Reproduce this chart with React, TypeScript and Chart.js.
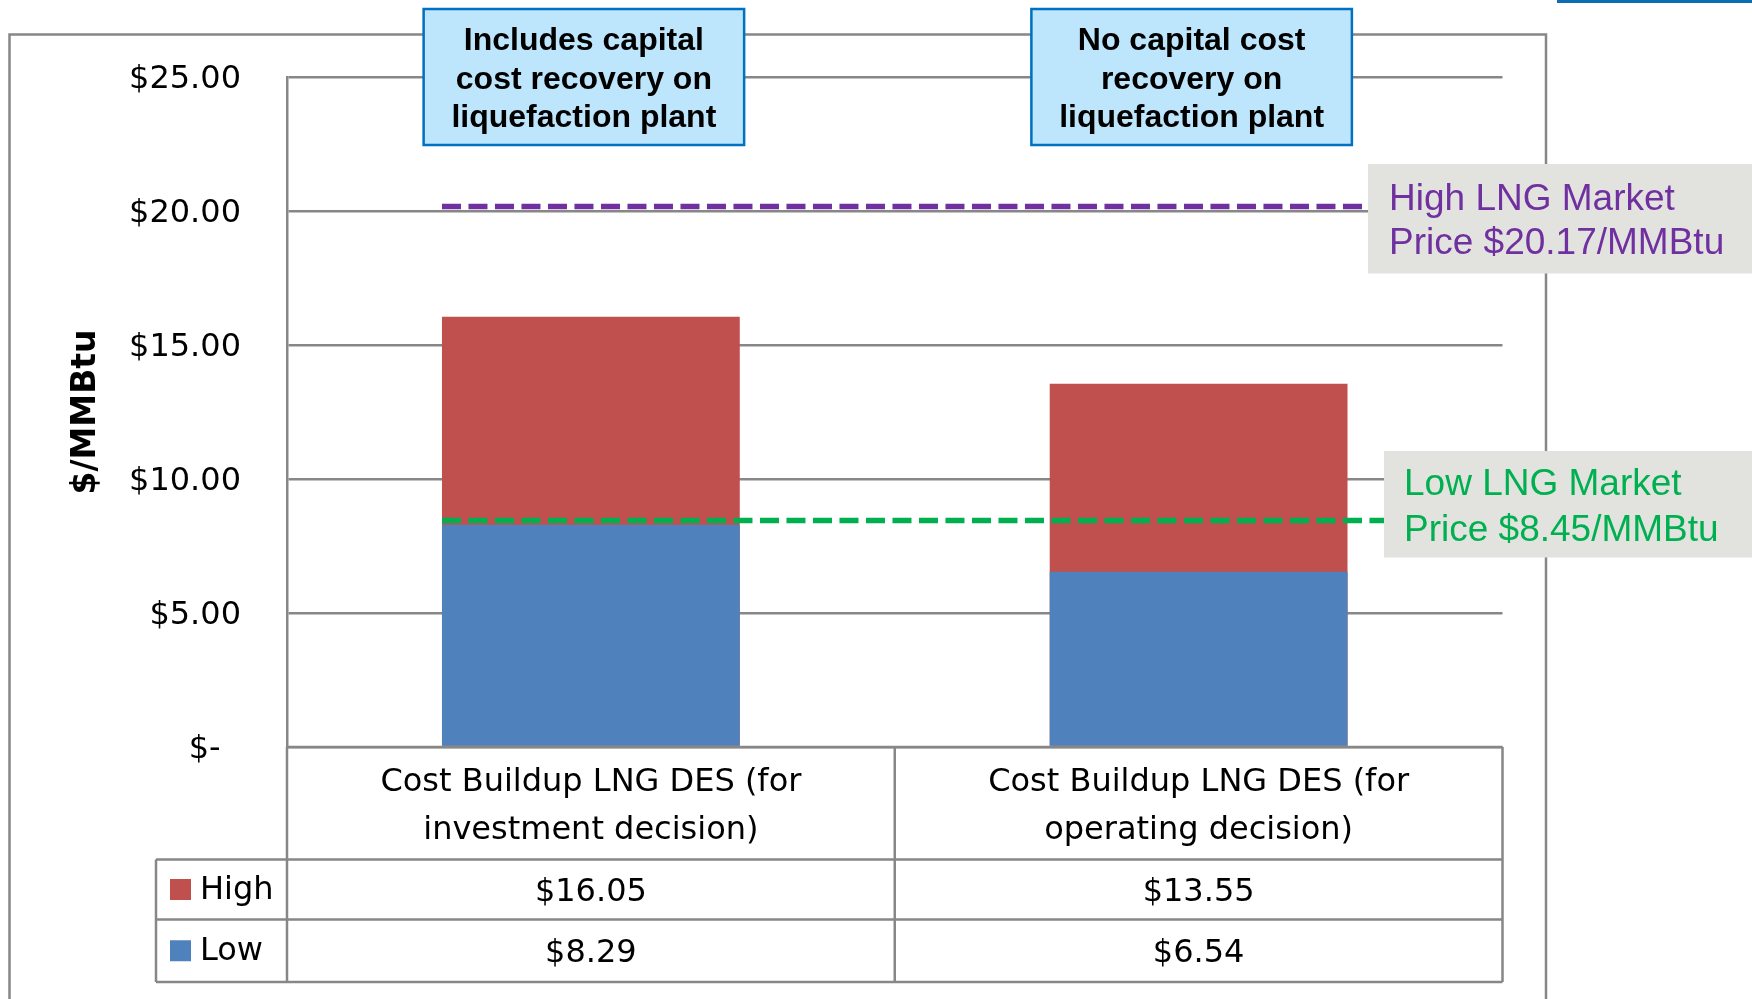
import React, { useEffect, useRef } from 'react';
import { Chart, registerables } from 'chart.js';

Chart.register(...registerables);

// ---------- data ----------
const categories: string[][] = [
  ['Cost Buildup LNG DES (for', 'investment decision)'],
  ['Cost Buildup LNG DES (for', 'operating decision)'],
];
const seriesNames = ['High', 'Low'];
const highValues = [16.05, 13.55];
const lowValues = [8.29, 6.54];
const yMin = 0;
const yMax = 25;
const yStep = 5;
const highMarketPrice = 20.17;
const lowMarketPrice = 8.45;
const yAxisTitle = '$/MMBtu';
const headerNotes: string[][] = [
  ['Includes capital', 'cost recovery on', 'liquefaction plant'],
  ['No capital cost', 'recovery on', 'liquefaction plant'],
];
const highMarketLabel = ['High LNG Market', `Price $${highMarketPrice.toFixed(2)}/MMBtu`];
const lowMarketLabel = ['Low LNG Market', `Price $${lowMarketPrice.toFixed(2)}/MMBtu`];

// ---------- styles ----------
const W = 1752;
const H = 999;
const GRID = '#878787';
const RED = '#c0504d';
const BLUE = '#4f81bd';
const PURPLE = '#7030a0';
const GREEN = '#00b050';
const TICK_FONT = 'DejaVu Sans';
const ARIAL = '"Liberation Sans", Arial, sans-serif';

const money = (v: number) => '$' + v.toFixed(2);

const overlay = {
  id: 'overlay',
  beforeDraw(chart: any) {
    const ctx = chart.ctx;
    ctx.save();
    ctx.fillStyle = '#ffffff';
    ctx.fillRect(0, 0, W, H);
    // outer frame
    ctx.strokeStyle = GRID;
    ctx.lineWidth = 2.5;
    ctx.beginPath();
    ctx.moveTo(9.5, H + 10);
    ctx.lineTo(9.5, 34.5);
    ctx.lineTo(1546, 34.5);
    ctx.lineTo(1546, H + 10);
    ctx.stroke();
    // slide decoration top-right
    ctx.fillStyle = '#0c6cb4';
    ctx.fillRect(1557, 0, W - 1557, 3);
    ctx.restore();
  },
  afterDatasetsDraw(chart: any) {
    const ctx = chart.ctx;
    const y = chart.scales.y;
    const bar = chart.getDatasetMeta(0).data[0] as any;
    const x0 = bar.x - bar.width / 2;
    ctx.save();
    ctx.lineWidth = 5.5;
    ctx.setLineDash([19, 7.5]);
    ctx.lineCap = 'butt';
    ctx.strokeStyle = PURPLE;
    ctx.beginPath();
    const yp = y.getPixelForValue(highMarketPrice);
    ctx.moveTo(x0, yp);
    ctx.lineTo(1372, yp);
    ctx.stroke();
    ctx.strokeStyle = GREEN;
    ctx.beginPath();
    const yg = y.getPixelForValue(lowMarketPrice);
    ctx.moveTo(x0, yg);
    ctx.lineTo(1388, yg);
    ctx.stroke();
    ctx.restore();
  },
  afterDraw(chart: any) {
    const ctx = chart.ctx;
    const xs = chart.scales.x;
    const area = chart.chartArea;
    ctx.save();

    // ----- data table -----
    const top = area.bottom;
    const r1 = top + 112.5;
    const r2 = r1 + 60;
    const r3 = r2 + 62.5;
    const legendLeft = 156;
    const mid = (xs.getPixelForValue(0) + xs.getPixelForValue(1)) / 2;
    ctx.strokeStyle = GRID;
    ctx.lineWidth = 2.5;
    ctx.setLineDash([]);
    ctx.beginPath();
    ctx.moveTo(area.left, top);
    ctx.lineTo(area.right, top);
    [area.left, mid, area.right].forEach((x) => {
      ctx.moveTo(x, top);
      ctx.lineTo(x, r3);
    });
    ctx.moveTo(legendLeft, r1);
    ctx.lineTo(legendLeft, r3);
    [r1, r2, r3].forEach((yy) => {
      ctx.moveTo(legendLeft, yy);
      ctx.lineTo(area.right, yy);
    });
    ctx.stroke();

    const rows = [
      { name: seriesNames[0], color: RED, values: highValues, cy: (r1 + r2) / 2 },
      { name: seriesNames[1], color: BLUE, values: lowValues, cy: (r2 + r3) / 2 },
    ];
    ctx.font = `32px "${TICK_FONT}"`;
    ctx.textBaseline = 'middle';
    rows.forEach((row) => {
      ctx.fillStyle = row.color;
      ctx.fillRect(170, row.cy - 10.5, 21, 21);
      ctx.fillStyle = '#000';
      ctx.textAlign = 'left';
      ctx.fillText(row.name, 200, row.cy + 1);
      ctx.textAlign = 'center';
      row.values.forEach((v, j) => {
        ctx.fillText(money(v), xs.getPixelForValue(j), row.cy + 3);
      });
    });

    // ----- header notes -----
    headerNotes.forEach((lines, j) => {
      const cx = xs.getPixelForValue(j) - 7;
      const bw = 320.5;
      const bx = cx - bw / 2;
      const by = 9;
      const bh = 136;
      ctx.fillStyle = '#bde5fb';
      ctx.fillRect(bx, by, bw, bh);
      ctx.strokeStyle = '#0070c0';
      ctx.lineWidth = 2.5;
      ctx.strokeRect(bx, by, bw, bh);
      ctx.fillStyle = '#000';
      ctx.font = `bold 32px ${ARIAL}`;
      ctx.textAlign = 'center';
      ctx.textBaseline = 'middle';
      lines.forEach((t, i) => ctx.fillText(t, cx, 41.5 + i * 38.5));
    });

    // ----- market price labels -----
    const boxes = [
      { x: 1368, y: 164, h: 109.5, tx: 1389, ty: [199.5, 244], color: PURPLE, lines: highMarketLabel },
      { x: 1384, y: 451, h: 106.5, tx: 1404, ty: [485, 531], color: GREEN, lines: lowMarketLabel },
    ];
    boxes.forEach((b) => {
      ctx.fillStyle = '#e2e3de';
      ctx.fillRect(b.x, b.y, W - b.x + 10, b.h);
      ctx.fillStyle = b.color;
      ctx.font = `37px ${ARIAL}`;
      ctx.textAlign = 'left';
      ctx.textBaseline = 'middle';
      b.lines.forEach((t, i) => ctx.fillText(t, b.tx, b.ty[i]));
    });

    ctx.restore();
  },
};

export default function App() {
  const ref = useRef<HTMLCanvasElement>(null);

  useEffect(() => {
    document.body.style.margin = '0';
    const chart = new Chart(ref.current as HTMLCanvasElement, {
      type: 'bar',
      data: {
        labels: categories as any,
        datasets: [
          {
            label: seriesNames[0],
            data: highValues,
            backgroundColor: RED,
            borderWidth: 0,
            order: 1,
            grouped: false,
            barPercentage: 0.49,
            categoryPercentage: 1,
          } as any,
          {
            label: seriesNames[1],
            data: lowValues,
            backgroundColor: BLUE,
            borderWidth: 0,
            order: 0,
            grouped: false,
            barPercentage: 0.49,
            categoryPercentage: 1,
          } as any,
        ],
      },
      options: {
        responsive: false,
        devicePixelRatio: 1,
        animation: false,
        layout: { padding: { top: 77, right: W - 1502.5, left: 0, bottom: 0 } },
        plugins: {
          legend: { display: false },
          tooltip: { enabled: false },
        },
        scales: {
          x: {
            grid: { display: false, drawTicks: false },
            border: { display: false },
            ticks: {
              color: '#000',
              font: { family: TICK_FONT, size: 32, lineHeight: 1.5 },
              padding: 12,
              maxRotation: 0,
              minRotation: 0,
              autoSkip: false,
            },
            afterFit: (scale: any) => {
              scale.height = H - 747;
            },
          },
          y: {
            min: yMin,
            max: yMax,
            grid: { color: GRID, lineWidth: 2.5, drawTicks: false },
            border: { display: true, color: GRID, width: 2.5 },
            ticks: {
              stepSize: yStep,
              color: '#000',
              font: { family: TICK_FONT, size: 32 },
              padding: 46,
              labelOffset: 3,
              callback: (v: any) => (Number(v) === 0 ? '$-  ' : money(Number(v))),
            },
            title: {
              display: true,
              text: yAxisTitle,
              color: '#000',
              font: { family: TICK_FONT, size: 33, weight: 'bold' },
              padding: { top: 67, bottom: 0 },
            },
            afterFit: (scale: any) => {
              scale.width = 287;
            },
          },
        },
      },
      plugins: [overlay],
    } as any);
    return () => chart.destroy();
  }, []);

  return (
    <div style={{ position: 'fixed', left: 0, top: 0, width: W, height: H, background: '#fff' }}>
      <canvas ref={ref} width={W} height={H} style={{ width: W, height: H, display: 'block' }} />
    </div>
  );
}
